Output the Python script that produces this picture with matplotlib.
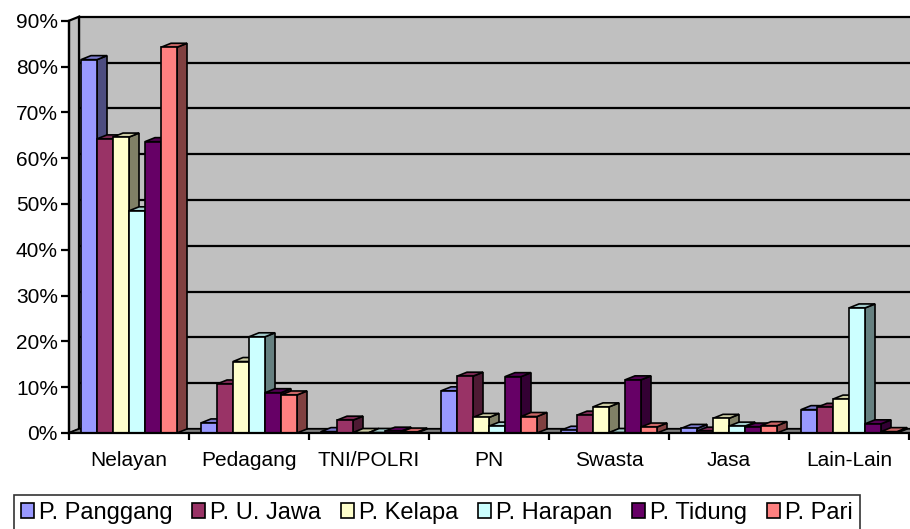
import matplotlib
matplotlib.use("Agg")
import matplotlib.pyplot as plt
from matplotlib.patches import Polygon, Patch

plt.rcParams['font.family'] = ['Liberation Sans', 'DejaVu Sans']

categories = ["Nelayan", "Pedagang", "TNI/POLRI", "PN", "Swasta", "Jasa", "Lain-Lain"]
series_names = ["P. Panggang", "P. U. Jawa", "P. Kelapa", "P. Harapan", "P. Tidung", "P. Pari"]

panggang = [81.5, 2.2, 0.3, 9.2, 0.6, 1.0, 5.1]
u_jawa   = [64.2, 10.7, 2.8, 12.4, 3.9, 0.4, 5.6]
kelapa   = [64.6, 15.6, 0.1, 3.4, 5.7, 3.2, 7.4]
harapan  = [48.5, 21.0, 0.1, 1.5, 0.1, 1.5, 27.3]
tidung   = [63.6, 8.8, 0.4, 12.3, 11.6, 1.3, 2.0]
pari     = [84.2, 8.3, 0.2, 3.6, 1.3, 1.6, 0.3]
series = [panggang, u_jawa, kelapa, harapan, tidung, pari]

colors = ["#9999FF", "#993366", "#FFFFCC", "#CCFFFF", "#660066", "#FF8080"]
y_ticks = list(range(0, 91, 10))
y_labels = [f"{t}%" for t in y_ticks]

W, H = 910, 529
fig = plt.figure(figsize=(W / 100, H / 100), dpi=100)
ax = fig.add_axes([69 / W, (H - 433) / H, 840 / W, (433 - 20.7) / H])
ax.set_xlim(0, len(categories))
ax.set_ylim(0, 90)
ax.patch.set_visible(False)

# depth of the 3-D effect, in data units
px_x = len(categories) / 840.0
px_y = 90 / (433 - 20.7)
dx, dy = 10 * px_x, 4 * px_y

wall_gray = "#C0C0C0"
n = len(categories)
# back wall
ax.add_patch(Polygon([(dx, dy), (n + dx, dy), (n + dx, 90 + dy), (dx, 90 + dy)],
                     closed=True, facecolor=wall_gray, edgecolor="black",
                     lw=1.6, zorder=0.1, clip_on=False))
# side wall
ax.add_patch(Polygon([(0, 0), (dx, dy), (dx, 90 + dy), (0, 90)],
                     closed=True, facecolor=wall_gray, edgecolor="black",
                     lw=1.6, zorder=0.2, clip_on=False))
# floor
ax.add_patch(Polygon([(0, 0), (n, 0), (n + dx, dy), (dx, dy)],
                     closed=True, facecolor="#808080", edgecolor="black",
                     lw=1.0, zorder=0.3, clip_on=False))
# gridlines on the back wall
for t in y_ticks[1:-1]:
    ax.plot([dx, n + dx], [t + dy, t + dy], color="black", lw=1.6,
            zorder=0.4, clip_on=False, solid_capstyle="butt")


def shade(c, f):
    r, g, b = matplotlib.colors.to_rgb(c)
    return (r * f, g * f, b * f)


bw = 0.8 / len(series)
for i in range(n):
    for j, vals in enumerate(series):
        h = vals[i]
        x0 = i + 0.1 + j * bw
        z = 2 + i * 0.1 + j * 0.01
        ax.add_patch(Polygon([(x0 + bw, 0), (x0 + bw + dx, dy), (x0 + bw + dx, h + dy), (x0 + bw, h)],
                             closed=True, facecolor=shade(colors[j], 0.5), edgecolor="black",
                             lw=1.2, zorder=z, clip_on=False))
        ax.add_patch(Polygon([(x0, h), (x0 + bw, h), (x0 + bw + dx, h + dy), (x0 + dx, h + dy)],
                             closed=True, facecolor=shade(colors[j], 0.8), edgecolor="black",
                             lw=1.2, zorder=z, clip_on=False))
        ax.bar(x0, h, width=bw, align="edge", color=colors[j], edgecolor="black",
               lw=1.2, zorder=z + 0.001)

for s in ["top", "right"]:
    ax.spines[s].set_visible(False)
for s in ["left", "bottom"]:
    ax.spines[s].set_linewidth(1.6)
    ax.spines[s].set_zorder(5)

ax.set_yticks(y_ticks)
ax.set_yticklabels(y_labels, fontsize=15)
ax.tick_params(axis="y", direction="out", length=6, width=1.6, pad=2)
ax.set_xticks(range(n + 1))
ax.set_xticklabels([])
ax.set_xticks([i + 0.5 for i in range(n)], minor=True)
ax.set_xticklabels(categories, minor=True, fontsize=15)
ax.tick_params(axis="x", which="major", direction="out", length=5, width=1.6)
ax.tick_params(axis="x", which="minor", length=0, pad=13)

handles = [Patch(facecolor=c, edgecolor="black", lw=1.2) for c in colors]
leg = fig.legend(handles, series_names, loc="lower left", ncol=6,
                 bbox_to_anchor=(14 / W, -2 / H), fontsize=17, frameon=True,
                 fancybox=False, handlelength=0.55, handleheight=0.55,
                 handletextpad=0.2, columnspacing=0.85, borderpad=0.3,
                 borderaxespad=0)
leg.get_frame().set_edgecolor("black")
leg.get_frame().set_linewidth(1.2)

fig.savefig("out.png", dpi=100)
